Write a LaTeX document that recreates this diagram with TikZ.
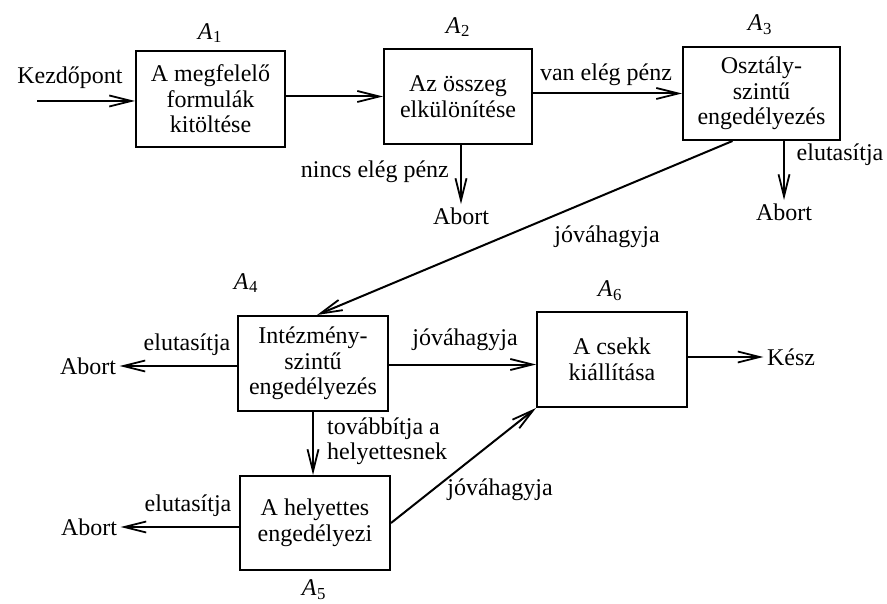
\documentclass[tikz,border=0pt]{standalone}
\usepackage{fontspec}
\setmainfont{Liberation Serif}
\usetikzlibrary{arrows.meta}
\newcommand\stage[1]{\textit{A}\kern0.5pt\textsubscript{#1}}
\begin{document}
\begin{tikzpicture}[x=1pt,y=-1pt,
  every node/.style={font=\fontsize{24}{25.5}\selectfont},
  box/.style={draw,line width=2pt,align=center,inner sep=0pt},
  flow/.style={line width=2pt,-{Straight Barb[length=22pt,width=11pt,line width=1.8pt]}},
  lbl/.style={inner sep=2pt,align=left}]
\useasboundingbox (0,0) rectangle (887,604);

% process boxes
\node[box,minimum width=149pt,minimum height=96pt] (A1) at (210.5,99) {A megfelelő\\formulák\\kitöltése};
\node[box,minimum width=148pt,minimum height=95pt] (A2) at (458,96.5) {Az összeg\\elkülönítése};
\node[box,minimum width=157pt,minimum height=93pt] (A3) at (761.5,93.5) {Osztály-\\szintű\\engedélyezés};
\node[box,minimum width=150pt,minimum height=95pt] (A4) at (313,363.5) {Intézmény-\\szintű\\engedélyezés};
\node[box,minimum width=150pt,minimum height=94pt] (A5) at (315,523) {A helyettes\\engedélyezi};
\node[box,minimum width=150pt,minimum height=95pt] (A6) at (612,359.5) {A csekk\\kiállítása};

% stage labels
\node (L1) at (210,33) {\stage{1}};
\node (L2) at (458,27) {\stage{2}};
\node (L3) at (760,25) {\stage{3}};
\node (L4) at (246,283) {\stage{4}};
\node (L5) at (314,590) {\stage{5}};
\node (L6) at (610,291) {\stage{6}};

% end points
\coordinate (start) at (37,101);
\node (kezd) at (70,78) {Kezdőpont};
\node (ab2) at (461,216) {Abort};
\node (ab3) at (784,212) {Abort};
\node (ab4) at (88,366) {Abort};
\node (ab5) at (89,527) {Abort};
\node (kesz) at (791,357) {Kész};

% connectors
\draw[flow] (start) -- (start -| A1.west);
\draw[flow] (A1.east |- A2.west) -- (A2.west);
\draw[flow] (A2.east |- A3.west) -- (A3.west);
\draw[flow] (A2.south -| ab2) -- (ab2.north);
\draw[flow] (A3.south -| ab3) -- (ab3.north);
\draw[flow] ([xshift=-29pt]A3.south) -- ([xshift=4pt]A4.north);
\draw[flow] (A4.west |- ab4) -- (ab4.east);
\draw[flow] (A4.south) -- (A4.south |- A5.north);
\draw[flow] ([yshift=-1pt]A4.east) -- ([yshift=-1pt]A4.east -| A6.west);
\draw[flow] (A5.west |- ab5) -- (ab5.east);
\draw[flow] (A5.east) -- (A6.south west);
\draw[flow] (A6.east |- kesz) -- (kesz.west);

% connector labels
\node[lbl] (t1) at (606,75) {van elég pénz};
\node[lbl,anchor=east] (t2) at (451,172) {nincs elég pénz};
\node[lbl] (t3) at (840,155) {elutasítja};
\node[lbl] (t4) at (607,237) {jóváhagyja};
\node[lbl] (t5) at (187,345) {elutasítja};
\node[lbl] (t6) at (465,340) {jóváhagyja};
\node[lbl,anchor=west] (t7) at (325,441) {továbbítja a\\helyettesnek};
\node[lbl] (t8) at (188,506) {elutasítja};
\node[lbl] (t9) at (500,490) {jóváhagyja};
\end{tikzpicture}
\end{document}
